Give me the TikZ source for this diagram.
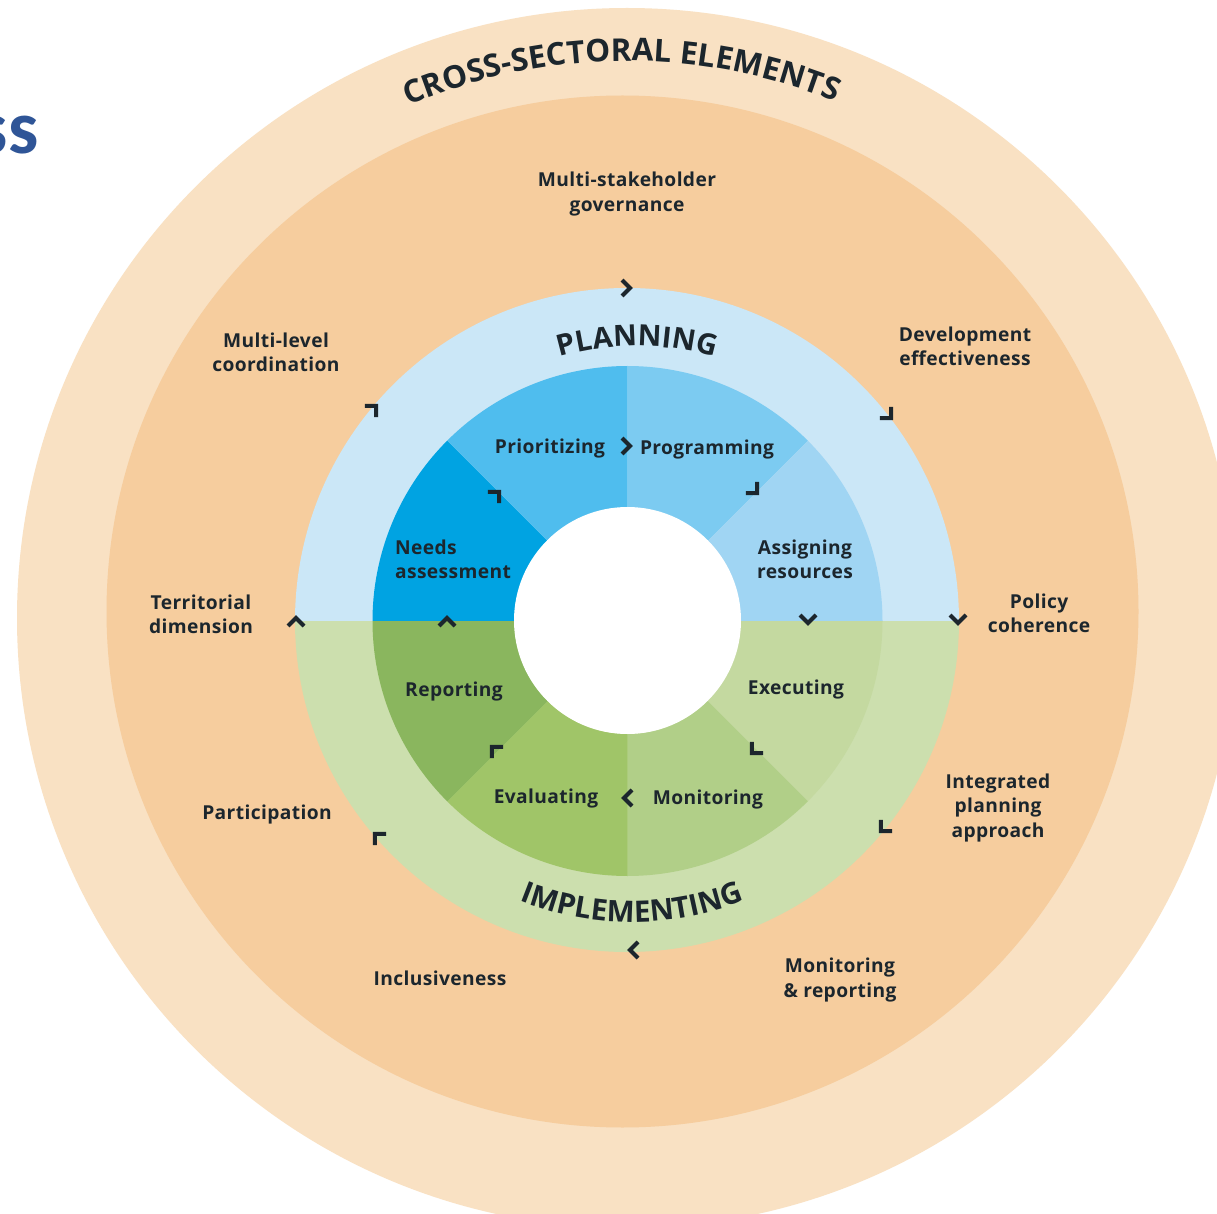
\documentclass[tikz,border=0pt]{standalone}
\usepackage{fontspec}
\setmainfont{Open Sans}[LetterSpace=2]
\newfontfamily\capfont{Open Sans}
\newfontfamily\titlefont{Carlito}
\usetikzlibrary{decorations.text}
\definecolor{ringouter}{HTML}{F9E1C3}
\definecolor{ringmid}{HTML}{F6CD9E}
\definecolor{blueout}{HTML}{CBE7F7}
\definecolor{greenout}{HTML}{CCDFAE}
\definecolor{needsc}{HTML}{00A3E2}
\definecolor{prioc}{HTML}{4FBDEE}
\definecolor{progc}{HTML}{7CCBF1}
\definecolor{assignc}{HTML}{A0D5F3}
\definecolor{execc}{HTML}{C4D9A0}
\definecolor{monic}{HTML}{B1CF88}
\definecolor{evalc}{HTML}{A0C568}
\definecolor{repoc}{HTML}{8AB65E}
\definecolor{ink}{HTML}{1C262D}
\definecolor{titleblue}{HTML}{2F5597}
\tikzset{
 lab/.style={font=\bfseries\fontsize{9.6}{12.2}\selectfont,text=ink,align=center,inner sep=0pt},
 chevron/.style={draw=ink,line width=2pt,line cap=butt,miter limit=10},
}
\newcommand{\chv}[3]{\draw[chevron,shift={(#1,#2)},rotate=#3] (-5,-8) -- (3,0) -- (-5,8);}
\newcommand{\seg}[3]{\fill[#1] (627.5,621) ++(#2:255) arc[start angle=#2,end angle=#3,radius=255] -- ++({#3+180}:142) arc[start angle=#3,end angle=#2,radius=113] -- cycle;}
\begin{document}
\begin{tikzpicture}[x=0.5pt,y=-0.5pt]
\useasboundingbox (0,0) rectangle (1217,1214);
\clip (0,0) rectangle (1217,1214);
\fill[white] (0,0) rectangle (1217,1214);
% rings
\fill[ringouter] (627,618) circle[radius=610];
\fill[ringmid] (622.5,611.5) circle[radius=516];
\fill[blueout] (627,621) ++(-180:332) arc[start angle=180,end angle=360,x radius=332,y radius=333] -- cycle;
\fill[greenout] (627,621) ++(180:332) arc[start angle=180,end angle=0,x radius=332,y radius=331] -- cycle;
% segments
\seg{needsc}{180}{225}
\seg{prioc}{225}{270}
\seg{progc}{270}{315}
\seg{assignc}{315}{360}
\seg{execc}{0}{45}
\seg{monic}{45}{90}
\seg{evalc}{90}{135}
\seg{repoc}{135}{180}
\fill[white] (627.5,620.5) circle[radius=113.5];
% curved titles
\path[decorate,decoration={text along path,text align=center,text color=ink,
  text={|\capfont\bfseries\fontsize{15.7}{18}\selectfont|CROSS-SECTORAL ELEMENTS}}]
  (627,618) ++(239.4:557) arc[start angle=239.4,end angle=299.4,radius=557];
\path[decorate,decoration={text along path,text align=center,text color=ink,
  text={|\capfont\bfseries\fontsize{14.6}{18}\selectfont|PLANNING}}]
  (637,621) ++(230:275) arc[start angle=230,end angle=310,radius=275];
\path[decorate,decoration={text along path,text align=center,text color=ink,
  text={|\capfont\bfseries\fontsize{14.8}{18}\selectfont|IMPLEMENTING}}]
  (632,621) ++(130:301) arc[start angle=130,end angle=50,radius=301];
% title fragment
\node[anchor=base east,inner sep=0pt,text=titleblue,font=\titlefont\bfseries\fontsize{38}{40}\selectfont] (titlefrag) at (39,154) {ss};
% outer labels
\node[lab] (gov) at (627,194) {Multi-stakeholder\\governance};
\node[lab] (mlc) at (276,352) {Multi-level\\coordination};
\node[lab] (dev) at (965,346) {Development\\effectiveness};
\node[lab] (pol) at (1039,613) {Policy\\coherence};
\node[lab] (ter) at (201,614) {Territorial\\dimension};
\node[lab] (ipa) at (998,808) {Integrated\\planning\\approach};
\node[lab] (par) at (267,815) {Participation};
\node[lab] (mor) at (840,980) {Monitoring\\\& reporting};
\node[lab] (inc) at (440,978) {Inclusiveness};
% inner labels
\node[lab] (pri) at (550,449) {Prioritizing};
\node[lab] (pro) at (707,450) {Programming};
\node[lab,align=left] (nee) at (453,559) {Needs\\assessment};
\node[lab] (ass) at (805,559) {Assigning\\resources};
\node[lab] (exe) at (796,690) {Executing};
\node[lab] (mon) at (708,800) {Monitoring};
\node[lab] (eva) at (546,799) {Evaluating};
\node[lab] (rep) at (454,692) {Reporting};
% outer chevrons
\chv{627}{288}{0}
\chv{889}{416}{-45}
\chv{958}{620}{-90}
\chv{883}{829}{-135}
\chv{633}{950}{180}
\chv{377}{836}{135}
\chv{296}{621}{90}
\chv{374}{408}{45}
% inner chevrons
\chv{627}{446}{0}
\chv{755}{491}{-45}
\chv{808}{620}{-90}
\chv{754}{751}{-135}
\chv{627}{798}{180}
\chv{494}{749}{135}
\chv{447}{621}{90}
\chv{497}{494}{45}
\end{tikzpicture}
\end{document}
